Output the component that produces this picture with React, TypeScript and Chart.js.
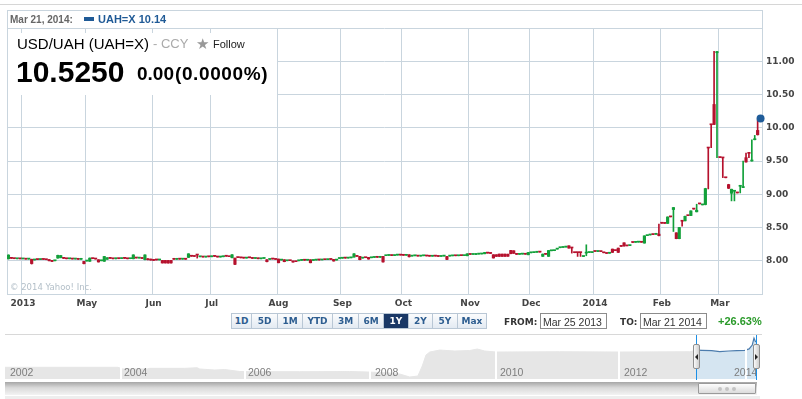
import React, { useEffect, useRef } from 'react';
import { Chart, registerables } from 'chart.js';

Chart.register(...registerables);

// ---------------- data ----------------
const FIRST_DAY = '2013-03-25';
const monthTickLabels = ['2013', 'May', 'Jun', 'Jul', 'Aug', 'Sep', 'Oct', 'Nov', 'Dec', '2014', 'Feb', 'Mar'];

const opens = [
  8.030, 8.040, 8.034, 8.030, 8.032, 8.028, 8.027, 8.025, 8.022, 8.012,
  8.020, 8.018, 8.024, 8.020, 8.018, 8.005, 8.000, 8.040, 8.045, 8.040,
  8.034, 8.030, 8.032, 8.026, 8.028, 8.022, 7.990, 7.996, 7.992, 8.036,
  8.030, 8.015, 8.000, 7.992, 8.022, 8.040, 8.034, 8.030, 8.036, 8.032,
  8.038, 8.034, 8.031, 8.030, 8.046, 8.040, 8.038, 8.016, 8.030, 8.025,
  8.020, 8.015, 8.012, 8.004, 8.004, 8.003, 8.004, 8.025, 8.022, 8.026,
  8.024, 8.026, 8.050, 8.070, 8.068, 8.090, 8.060, 8.062, 8.056, 8.064,
  8.060, 8.070, 8.066, 8.056, 8.060, 8.070, 8.066, 8.046, 8.040, 8.050,
  8.048, 8.044, 8.040, 8.050, 8.045, 8.035, 8.040, 8.030, 8.035, 8.015,
  8.020, 8.030, 8.026, 8.025, 8.010, 8.015, 8.000, 8.004, 7.996, 7.990,
  8.000, 8.006, 8.012, 8.008, 8.015, 8.005, 8.010, 8.016, 8.012, 8.020,
  8.016, 8.024, 8.020, 8.010, 8.034, 8.038, 8.042, 8.040, 8.044, 8.055,
  8.070, 8.065, 8.040, 8.050, 8.050, 8.045, 8.050, 8.056, 8.052, 8.065,
  8.076, 8.080, 8.085, 8.078, 8.085, 8.090, 8.085, 8.082, 8.090, 8.070,
  8.075, 8.080, 8.070, 8.075, 8.080, 8.072, 8.068, 8.075, 8.070, 8.065,
  8.070, 8.065, 8.070, 8.074, 8.078, 8.075, 8.080, 8.077, 8.075, 8.098,
  8.095, 8.094, 8.100, 8.102, 8.105, 8.120, 8.115, 8.090, 8.090, 8.100,
  8.100, 8.100, 8.098, 8.155, 8.150, 8.100, 8.096, 8.100, 8.104, 8.090,
  8.120, 8.122, 8.128, 8.134, 8.066, 8.100, 8.066, 8.150, 8.152, 8.175,
  8.196, 8.200, 8.206, 8.225, 8.196, 8.126, 8.126, 8.126, 8.064, 8.115,
  8.124, 8.124, 8.142, 8.140, 8.141, 8.122, 8.112, 8.113, 8.175, 8.156,
  8.190, 8.220, 8.270, 8.226, 8.228, 8.277, 8.277, 8.280, 8.280, 8.266,
  8.378, 8.388, 8.396, 8.398, 8.400, 8.567, 8.566, 8.562, 8.664, 8.770,
  8.420, 8.332, 8.600, 8.600, 8.681, 8.680, 8.781, 8.736, 8.858, 8.840,
  8.845, 9.700, 10.050, 10.350, 11.128, 9.556, 9.552, 9.252, 9.145, 9.015,
  9.045, 9.024, 9.120, 9.100, 9.550, 9.620, 9.500, 9.820, 9.960, 10.130,
];

const closes = [
  8.085, 8.036, 8.032, 8.033, 8.029, 8.030, 8.024, 8.027, 7.958, 8.020,
  8.018, 8.024, 8.020, 8.016, 8.000, 7.990, 8.004, 8.082, 8.078, 8.036,
  8.030, 8.033, 8.026, 8.028, 8.022, 8.025, 7.956, 8.000, 8.040, 8.032,
  8.026, 7.982, 8.005, 8.064, 8.045, 8.036, 8.030, 8.038, 8.032, 8.040,
  8.036, 8.030, 8.034, 8.088, 8.041, 8.042, 8.035, 8.088, 8.015, 8.010,
  8.005, 8.012, 8.015, 7.967, 7.967, 7.966, 7.967, 8.022, 8.026, 8.024,
  8.027, 8.023, 8.104, 8.068, 8.065, 8.086, 8.062, 8.056, 8.064, 8.060,
  8.070, 8.066, 8.056, 8.060, 8.070, 8.068, 8.061, 8.090, 7.946, 8.048,
  8.044, 8.040, 8.050, 8.045, 8.035, 8.040, 8.030, 8.035, 8.040, 7.986,
  8.025, 8.026, 8.020, 7.970, 8.015, 7.986, 8.005, 8.001, 7.980, 7.986,
  8.006, 8.012, 8.008, 8.014, 7.970, 8.010, 8.016, 8.012, 8.020, 8.016,
  8.024, 8.020, 7.996, 8.020, 8.038, 8.042, 8.040, 8.044, 8.046, 8.104,
  8.066, 8.016, 8.045, 8.046, 8.026, 8.050, 8.056, 8.052, 8.060, 7.982,
  8.080, 8.085, 8.078, 8.085, 8.090, 8.085, 8.082, 8.086, 8.060, 8.075,
  8.080, 8.070, 8.075, 8.080, 8.072, 8.068, 8.075, 8.070, 8.065, 8.070,
  8.072, 8.020, 8.074, 8.078, 8.075, 8.080, 8.077, 8.080, 8.104, 8.095,
  8.100, 8.106, 8.102, 8.105, 8.125, 8.115, 8.110, 8.042, 8.066, 8.066,
  8.066, 8.066, 8.068, 8.106, 8.112, 8.096, 8.100, 8.104, 8.098, 8.124,
  8.122, 8.128, 8.134, 8.130, 8.100, 8.097, 8.154, 8.156, 8.157, 8.180,
  8.200, 8.206, 8.211, 8.190, 8.192, 8.122, 8.122, 8.122, 8.068, 8.130,
  8.127, 8.126, 8.140, 8.141, 8.138, 8.120, 8.110, 8.116, 8.126, 8.153,
  8.126, 8.216, 8.222, 8.224, 8.231, 8.275, 8.280, 8.282, 8.278, 8.374,
  8.381, 8.391, 8.394, 8.401, 8.378, 8.564, 8.562, 8.658, 8.660, 8.800,
  8.332, 8.500, 8.594, 8.668, 8.678, 8.750, 8.777, 8.760, 8.855, 8.844,
  9.085, 9.695, 10.045, 10.050, 11.145, 9.552, 9.546, 9.248, 9.090, 9.075,
  9.050, 9.020, 9.125, 9.110, 9.485, 9.615, 9.510, 9.826, 9.895, 10.140,
];

const highs = [
  8.090, 8.042, 8.036, 8.035, 8.033, 8.031, 8.028, 8.028, 8.024, 8.021,
  8.022, 8.025, 8.025, 8.021, 8.019, 8.006, 8.006, 8.084, 8.080, 8.042,
  8.035, 8.034, 8.033, 8.030, 8.029, 8.026, 7.992, 8.002, 8.042, 8.038,
  8.031, 8.016, 8.007, 8.066, 8.047, 8.042, 8.035, 8.039, 8.037, 8.041,
  8.040, 8.035, 8.036, 8.090, 8.047, 8.044, 8.039, 8.090, 8.031, 8.026,
  8.021, 8.016, 8.017, 8.005, 8.005, 8.005, 8.006, 8.026, 8.027, 8.028,
  8.028, 8.027, 8.106, 8.072, 8.069, 8.091, 8.064, 8.063, 8.065, 8.066,
  8.071, 8.072, 8.067, 8.062, 8.071, 8.072, 8.067, 8.092, 8.042, 8.052,
  8.049, 8.045, 8.051, 8.052, 8.046, 8.041, 8.041, 8.036, 8.041, 8.016,
  8.026, 8.031, 8.027, 8.026, 8.016, 8.016, 8.006, 8.005, 7.997, 7.991,
  8.007, 8.013, 8.013, 8.015, 8.016, 8.011, 8.017, 8.017, 8.021, 8.021,
  8.025, 8.025, 8.021, 8.021, 8.039, 8.043, 8.044, 8.045, 8.048, 8.106,
  8.072, 8.066, 8.046, 8.051, 8.051, 8.051, 8.057, 8.057, 8.061, 8.066,
  8.081, 8.086, 8.086, 8.086, 8.091, 8.091, 8.086, 8.087, 8.091, 8.076,
  8.081, 8.081, 8.076, 8.081, 8.081, 8.073, 8.076, 8.076, 8.071, 8.071,
  8.074, 8.066, 8.075, 8.079, 8.079, 8.081, 8.081, 8.081, 8.106, 8.099,
  8.101, 8.107, 8.103, 8.106, 8.126, 8.121, 8.116, 8.091, 8.091, 8.101,
  8.101, 8.101, 8.100, 8.156, 8.151, 8.101, 8.101, 8.105, 8.105, 8.125,
  8.124, 8.129, 8.135, 8.135, 8.101, 8.101, 8.156, 8.157, 8.158, 8.181,
  8.201, 8.207, 8.212, 8.226, 8.197, 8.127, 8.127, 8.127, 8.069, 8.240,
  8.128, 8.127, 8.143, 8.142, 8.142, 8.123, 8.113, 8.117, 8.176, 8.157,
  8.191, 8.221, 8.271, 8.227, 8.232, 8.278, 8.281, 8.283, 8.281, 8.376,
  8.382, 8.392, 8.397, 8.402, 8.550, 8.568, 8.567, 8.660, 8.665, 8.802,
  8.421, 8.502, 8.601, 8.670, 8.682, 8.752, 8.782, 8.850, 8.859, 8.845,
  9.090, 9.702, 10.052, 11.150, 11.150, 9.557, 9.553, 9.253, 9.150, 9.077,
  9.052, 9.025, 9.127, 9.500, 9.620, 9.622, 9.820, 9.885, 10.120, 10.150,
];

const lows = [
  8.025, 8.034, 8.030, 8.029, 8.027, 8.026, 8.022, 8.023, 7.950, 8.010,
  8.016, 8.017, 8.019, 8.014, 7.998, 7.985, 7.998, 8.038, 8.044, 8.034,
  8.028, 8.028, 8.025, 8.024, 8.020, 8.020, 7.952, 7.994, 7.990, 8.030,
  8.024, 7.980, 7.998, 7.990, 8.020, 8.034, 8.028, 8.029, 8.030, 8.031,
  8.034, 8.028, 8.030, 8.028, 8.040, 8.038, 8.033, 8.014, 8.013, 8.008,
  8.003, 8.010, 8.011, 7.965, 7.965, 7.964, 7.965, 8.020, 8.021, 8.022,
  8.022, 8.021, 8.048, 8.066, 8.063, 8.040, 8.058, 8.055, 8.055, 8.058,
  8.059, 8.064, 8.055, 8.054, 8.059, 8.066, 8.060, 8.044, 7.940, 8.046,
  8.042, 8.038, 8.039, 8.044, 8.034, 8.034, 8.029, 8.029, 8.034, 7.984,
  8.019, 8.025, 8.019, 7.968, 8.009, 7.984, 7.999, 8.000, 7.978, 7.985,
  7.999, 8.005, 8.006, 8.007, 7.968, 8.004, 8.009, 8.010, 8.011, 8.015,
  8.015, 8.019, 7.994, 8.009, 8.033, 8.037, 8.038, 8.039, 8.043, 8.053,
  8.064, 8.014, 8.039, 8.045, 8.024, 8.044, 8.049, 8.050, 8.051, 7.980,
  8.075, 8.079, 8.077, 8.077, 8.084, 8.084, 8.080, 8.081, 8.056, 8.069,
  8.074, 8.069, 8.069, 8.074, 8.071, 8.067, 8.067, 8.069, 8.064, 8.064,
  8.069, 8.016, 8.069, 8.073, 8.074, 8.074, 8.076, 8.076, 8.074, 8.094,
  8.094, 8.093, 8.099, 8.101, 8.104, 8.114, 8.109, 8.040, 8.064, 8.064,
  8.064, 8.064, 8.066, 8.104, 8.110, 8.095, 8.095, 8.099, 8.097, 8.089,
  8.119, 8.121, 8.127, 8.129, 8.065, 8.096, 8.065, 8.149, 8.151, 8.174,
  8.195, 8.199, 8.205, 8.188, 8.115, 8.120, 8.065, 8.065, 8.063, 8.075,
  8.123, 8.123, 8.139, 8.138, 8.137, 8.119, 8.109, 8.112, 8.124, 8.152,
  8.124, 8.215, 8.220, 8.223, 8.227, 8.274, 8.276, 8.279, 8.277, 8.264,
  8.377, 8.387, 8.393, 8.397, 8.375, 8.563, 8.561, 8.560, 8.659, 8.440,
  8.330, 8.330, 8.520, 8.599, 8.677, 8.679, 8.776, 8.734, 8.854, 8.839,
  8.840, 9.080, 9.700, 10.048, 9.550, 9.551, 9.250, 9.247, 9.085, 8.900,
  8.900, 9.019, 9.020, 9.098, 9.483, 9.550, 9.498, 9.818, 9.890, 10.125,
];

const lastPrice = 10.14;

// navigator (long-range overview)
const navYears = [
  2002.144, 2003.95, 2004.03, 2004.42, 2004.46, 2005.02, 2005.22, 2005.26, 2005.5, 2005.66,
  2005.9, 2006.06, 2006.86, 2007.66, 2007.95, 2008.3, 2008.46, 2008.62, 2008.75, 2008.82,
  2008.88, 2008.94, 2009.1, 2009.34, 2009.58, 2009.7, 2009.82, 2010.0, 2011.02, 2011.98,
  2013.1, 2013.216,
];
const navValues = [
  5.28, 5.28, 5.0, 5.0, 5.11, 5.11, 5.21, 5.0, 4.83, 4.91,
  4.58, 4.55, 4.55, 4.58, 4.5, 4.33, 4.16, 3.66, 3.83, 5.5,
  7.33, 7.83, 8.16, 8.0, 8.08, 8.33, 8.0, 7.83, 7.88, 7.83,
  7.88, 8.16,
];
const selYears = [2013.216, 2013.3, 2013.45, 2013.58, 2013.72, 2013.85, 2013.98, 2014.05, 2014.1, 2014.128, 2014.15, 2014.176];
const selValues = [8.16, 8.12, 8.05, 7.9, 8.0, 8.05, 8.1, 8.35, 9.0, 10.16, 9.6, 9.5];

const navYearLabels = ['2002', '2004', '2006', '2008', '2010', '2012', '2014'];
const rangeButtons = ['1D', '5D', '1M', 'YTD', '3M', '6M', '1Y', '2Y', '5Y', 'Max'];

// ---------------- styles ----------------
const GREEN = '#12a03a';
const RED = '#b5112d';
const BLUE = '#1f5c99';
const GRID = '#c9d5de';
const DV = '"DejaVu Sans", Verdana, sans-serif';
const LS = '"Liberation Sans", Arial, Helvetica, sans-serif';

function tradingDates(first: string, n: number): Date[] {
  const out: Date[] = [];
  const d = new Date(first + 'T00:00:00Z');
  while (out.length < n) {
    const wd = d.getUTCDay();
    if (wd !== 0 && wd !== 6) out.push(new Date(d.getTime()));
    d.setUTCDate(d.getUTCDate() + 1);
  }
  return out;
}

type TxtProps = { x: number; base: number; fs: number; family?: string; weight?: string | number; color?: string; children: React.ReactNode; ls?: number };
function Txt({ x, base, fs, family = LS, weight = 'normal', color = '#000', children, ls = 0 }: TxtProps) {
  const k = family === DV ? 0.846 : 0.83;
  return (
    <div
      style={{
        position: 'absolute', left: x, top: base - k * fs, fontFamily: family, fontSize: fs,
        fontWeight: weight as any, color, lineHeight: fs + 'px', whiteSpace: 'nowrap', letterSpacing: ls,
      }}
    >
      {children}
    </div>
  );
}

const abs = (s: React.CSSProperties): React.CSSProperties => ({ position: 'absolute', boxSizing: 'border-box', ...s });

export default function App() {
  const mainRef = useRef<HTMLCanvasElement>(null);
  const navRef = useRef<HTMLCanvasElement>(null);

  useEffect(() => {
    const dates = tradingDates(FIRST_DAY, closes.length);
    const labels = dates.map((d) => d.toISOString().slice(0, 10));
    const tickText: Record<number, string> = {};
    let k = 0;
    for (let i = 1; i < dates.length; i++) {
      if (dates[i].getUTCMonth() !== dates[i - 1].getUTCMonth()) tickText[i] = monthTickLabels[k++] ?? '';
    }
    const colors = closes.map((c, i) => (c >= opens[i] ? GREEN : RED));
    const axisFont = { family: DV, size: 9, weight: 'bold' as const };

    const main = new Chart(mainRef.current as HTMLCanvasElement, {
      type: 'bar',
      data: {
        labels,
        datasets: [
          {
            label: 'range',
            data: lows.map((l, i) => [l, highs[i]]),
            backgroundColor: colors,
            barThickness: 1,
            grouped: false,
            order: 2,
          } as any,
          {
            label: 'body',
            data: opens.map((o, i) => [o, closes[i]]),
            backgroundColor: colors,
            barThickness: 2.5,
            minBarLength: 1,
            grouped: false,
            order: 1,
          } as any,
          {
            type: 'line',
            label: 'last',
            data: closes.map((_, i) => (i === closes.length - 1 ? lastPrice : null)),
            showLine: false,
            pointRadius: 4,
            pointBackgroundColor: BLUE,
            pointBorderColor: BLUE,
            pointBorderWidth: 0,
            clip: false,
            order: 0,
          } as any,
        ],
      },
      options: {
        responsive: false,
        animation: false,
        devicePixelRatio: 1,
        events: [],
        layout: { padding: { left: 7, top: 28, right: 0, bottom: 0 } },
        plugins: { legend: { display: false }, tooltip: { enabled: false } },
        scales: {
          x: {
            type: 'category',
            offset: true,
            grid: {
              offset: true,
              drawTicks: false,
              color: (ctx: any) => (tickText[ctx.index] !== undefined ? GRID : 'rgba(0,0,0,0)'),
            },
            border: { display: false },
            ticks: {
              autoSkip: false,
              maxRotation: 0,
              minRotation: 0,
              padding: 4,
              color: '#444',
              font: axisFont,
              callback: (_v: any, i: number) => tickText[i] ?? '',
            },
            afterFit: (s: any) => { s.height = 26; },
          } as any,
          y: {
            position: 'right',
            min: 7.5,
            max: 11.5,
            ticks: {
              stepSize: 0.5,
              padding: 4,
              color: '#444',
              font: axisFont,
              callback: (v: any) => (v >= 7.99 && v <= 11.01 ? Number(v).toFixed(2) : ''),
            },
            grid: { color: GRID, drawTicks: false },
            border: { display: false },
            afterFit: (s: any) => { s.width = 40; },
          } as any,
        },
      },
    });

    const nav = new Chart(navRef.current as HTMLCanvasElement, {
      type: 'line',
      data: {
        datasets: [
          {
            data: selYears.map((x, i) => ({ x, y: selValues[i] })),
            fill: 'start',
            backgroundColor: '#d5e5f1',
            borderColor: '#4c7cad',
            borderWidth: 1.2,
            pointRadius: 0,
            order: 0,
          } as any,
          {
            data: navYears.map((x, i) => ({ x, y: navValues[i] })),
            fill: 'start',
            backgroundColor: '#e6e6e6',
            borderColor: '#e6e6e6',
            borderWidth: 1,
            pointRadius: 0,
            order: 1,
          } as any,
        ],
      },
      options: {
        responsive: false,
        animation: false,
        devicePixelRatio: 1,
        events: [],
        layout: { padding: 0 },
        plugins: { legend: { display: false }, tooltip: { enabled: false } },
        scales: {
          x: { type: 'linear', min: 2002.144, max: 2014.176, display: false },
          y: { min: 3.33, max: 10.67, display: false },
        },
      },
    });

    return () => {
      main.destroy();
      nav.destroy();
    };
  }, []);

  const btnEdges = [231, 251, 277, 302, 332, 358, 383, 408, 432, 457, 486];
  const dividerX = [120, 244, 369, 495, 618, 745];
  const yearLabelX = [10, 124, 248, 375, 500, 624, 734];

  return (
    <div style={abs({ left: 0, top: 0, width: 802, height: 399, background: '#fff', overflow: 'hidden', fontFamily: LS })}>
      {/* top rule */}
      <div style={abs({ left: 0, top: 4, width: 802, height: 1, background: '#d6d6d6' })} />
      {/* chart frame */}
      <div style={abs({ left: 7, top: 10, width: 756, height: 285, border: '1px solid ' + GRID })} />

      <canvas ref={mainRef} width={802} height={320} style={{ position: 'absolute', left: 0, top: 0, width: 802, height: 320 }} />

      {/* header row */}
      <Txt x={10} base={23} fs={10} weight="bold" color="#666">Mar 21, 2014:</Txt>
      <div style={abs({ left: 84, top: 17, width: 10, height: 4, background: '#1f5a96' })} />
      <Txt x={98} base={23} fs={11} weight="bold" color="#1f5a96">UAH=X 10.14</Txt>

      {/* quote overlay */}
      <div style={abs({ left: 8, top: 33, width: 269, height: 62, background: '#fff' })} />
      <Txt x={17} base={48} fs={15} color="#000">USD/UAH (UAH=X)</Txt>
      <Txt x={153} base={48} fs={13} color="#aaa">- CCY</Txt>
      <Txt x={196} base={50} fs={15} family={DV} color="#999">★</Txt>
      <Txt x={213} base={48} fs={11} color="#222">Follow</Txt>
      <Txt x={16} base={81.7} fs={30} weight="bold" color="#000">10.5250</Txt>
      <Txt x={137} base={80} fs={19} weight="bold" color="#000">0.00</Txt>
      <Txt x={175} base={80} fs={19} weight="bold" color="#000" ls={0.6}>(0.0000%)</Txt>

      <Txt x={10} base={290} fs={8.5} family={DV} color="#b3bfc8">© 2014 Yahoo! Inc.</Txt>

      {/* range buttons */}
      {rangeButtons.map((b, i) => {
        const sel = b === '1Y';
        return (
          <div
            key={b}
            style={abs({
              left: btnEdges[i], top: 313, width: btnEdges[i + 1] - btnEdges[i] + 1, height: 16,
              border: '1px solid #b9c7d5',
              background: sel ? '#1a3866' : 'linear-gradient(#fbfcfd, #e3eaf2)',
              color: sel ? '#fff' : '#2d5d90', fontFamily: DV, fontWeight: 'bold', fontSize: 9,
              lineHeight: '14px', textAlign: 'center',
            })}
          >
            {b}
          </div>
        );
      })}

      <Txt x={504} base={325.3} fs={9} family={DV} weight="bold" color="#333">FROM:</Txt>
      <div style={abs({ left: 540, top: 313, width: 67, height: 16, border: '1px solid #8c8c8c', background: '#fff' })} />
      <Txt x={543} base={325.3} fs={10.5} color="#333">Mar 25 2013</Txt>
      <Txt x={620} base={325.3} fs={9} family={DV} weight="bold" color="#333">TO:</Txt>
      <div style={abs({ left: 640, top: 313, width: 67, height: 16, border: '1px solid #8c8c8c', background: '#fff' })} />
      <Txt x={643} base={325.3} fs={10.5} color="#333">Mar 21 2014</Txt>
      <Txt x={718} base={325.3} fs={11} weight="bold" color="#2a9a2a">+26.63%</Txt>

      <div style={abs({ left: 5, top: 334, width: 757, height: 1, background: '#d8d8d8' })} />

      {/* navigator */}
      <canvas ref={navRef} width={752} height={44} style={{ position: 'absolute', left: 5, top: 335, width: 752, height: 44 }} />
      {dividerX.map((x) => (
        <div key={x} style={abs({ left: x, top: 335, width: 2, height: 44, background: '#fff' })} />
      ))}
      {navYearLabels.map((t, i) => (
        <Txt key={t} x={yearLabelX[i]} base={376} fs={10.5} color="#7d7d7d">{t}</Txt>
      ))}
      <div style={abs({ left: 696, top: 335, width: 1, height: 45, background: '#1c8fe6' })} />
      <div style={abs({ left: 756, top: 335, width: 1, height: 45, background: '#1c8fe6' })} />
      {[693, 753].map((x, i) => (
        <div
          key={x}
          style={abs({
            left: x, top: 344, width: 7, height: 25, border: '1px solid #8f8f8f', borderRadius: 2,
            background: 'linear-gradient(to right, #fafafa, #cfcfcf)',
          })}
        >
          <div
            style={abs({
              left: 1, top: 9, width: 0, height: 0,
              borderTop: '3px solid transparent', borderBottom: '3px solid transparent',
              ...(i === 0 ? { borderRight: '3px solid #222' } : { borderLeft: '3px solid #222' }),
            })}
          />
        </div>
      ))}
      <div style={abs({ left: 5, top: 382, width: 752, height: 13, background: 'linear-gradient(#a6a6a6, #dadada 45%, #f3f3f3)' })} />
      <div
        style={abs({
          left: 698, top: 383, width: 58, height: 11, border: '1px solid #9a9a9a', borderRadius: 1,
          background: 'linear-gradient(#fdfdfd, #dcdcdc)',
        })}
      />
      {[718, 725, 732].map((x) => (
        <div key={x} style={abs({ left: x, top: 387, width: 4, height: 4, borderRadius: 2, background: '#c4c4c4' })} />
      ))}
      <div style={abs({ left: 5, top: 396, width: 755, height: 3, background: '#eeeeee' })} />
    </div>
  );
}
